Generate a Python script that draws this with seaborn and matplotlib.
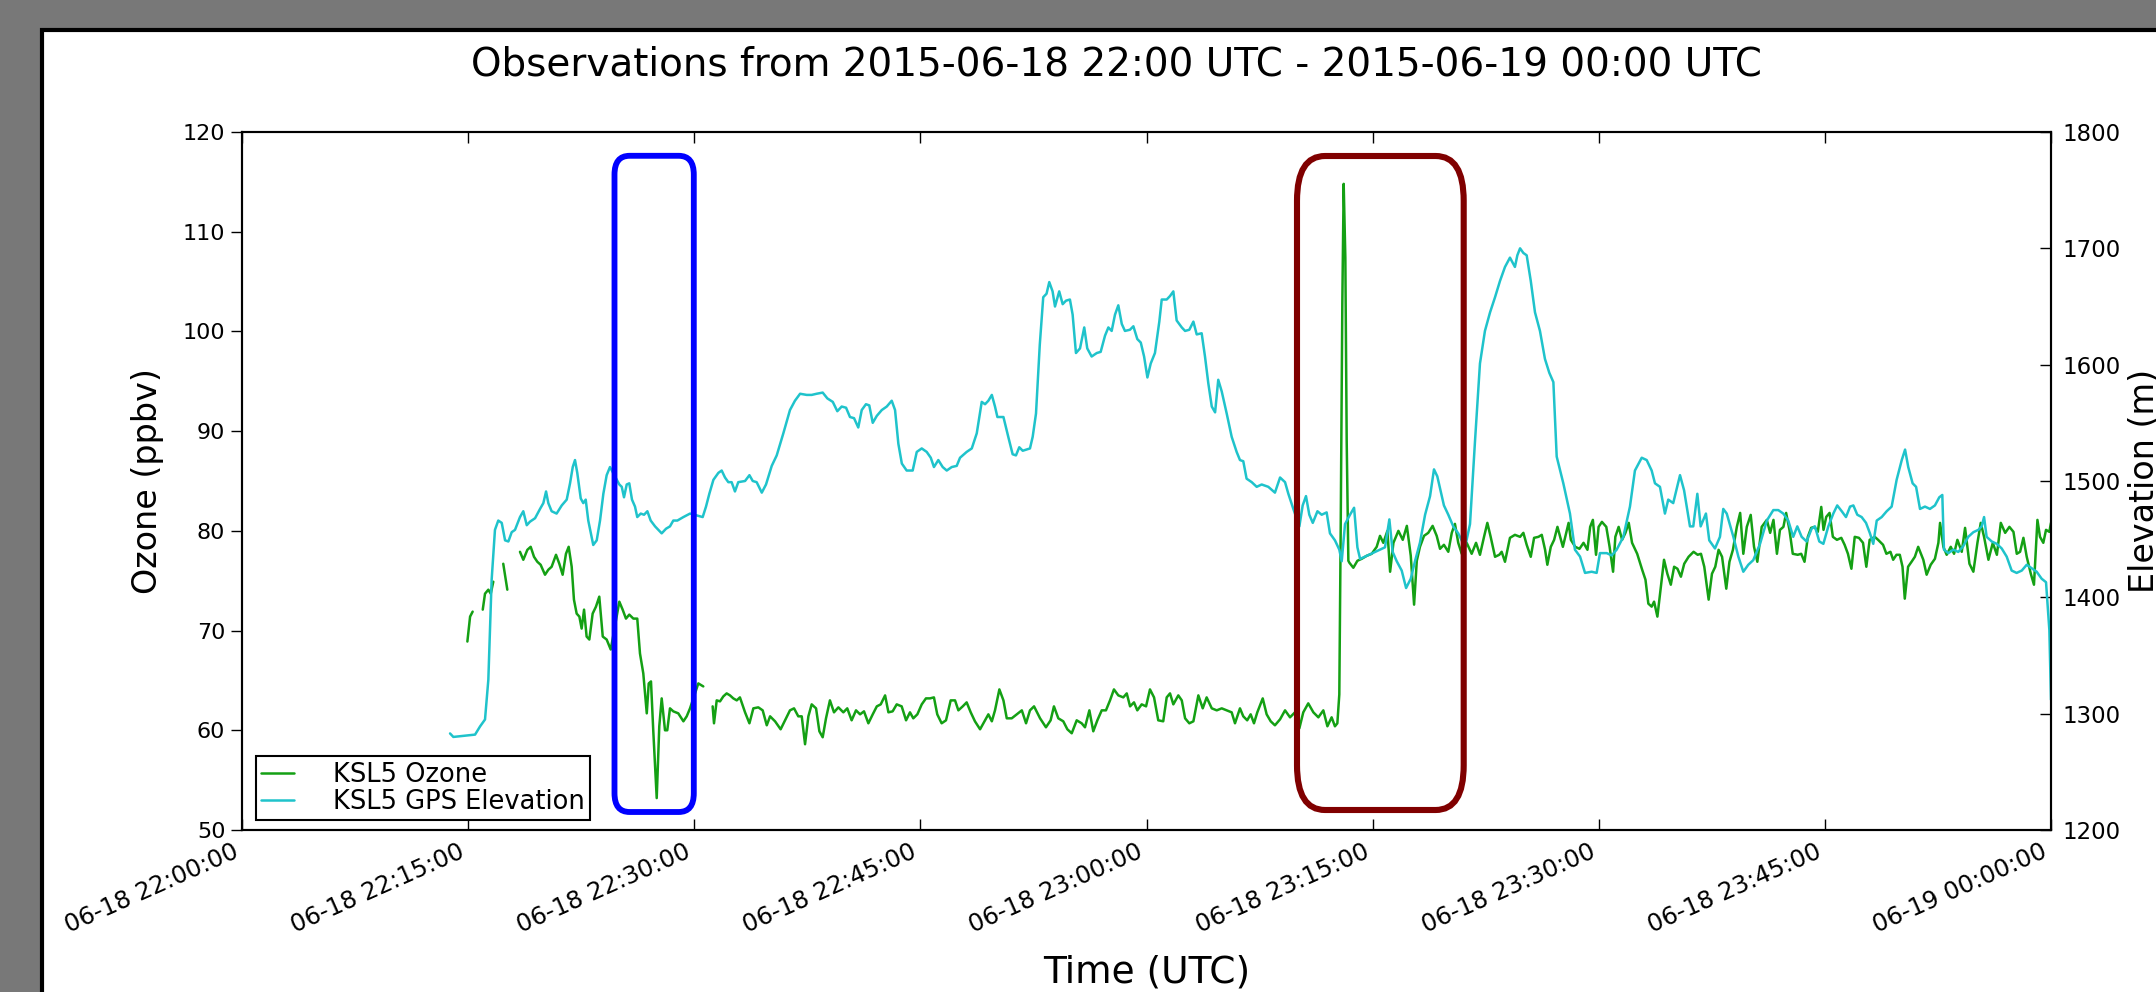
import numpy as np
import pandas as pd
import matplotlib
matplotlib.use("Agg")
import matplotlib.pyplot as plt
import matplotlib.dates as mdates
from matplotlib.lines import Line2D
from matplotlib.patches import FancyBboxPatch, Rectangle
from matplotlib.transforms import IdentityTransform
import seaborn as sns

# --- data (minutes after 2015-06-18 22:00 UTC) ---
START = pd.Timestamp("2015-06-18 22:00")
END = pd.Timestamp("2015-06-19 00:00")

# None marks a gap in the ozone record
ozone_minutes = [
    14.95, 15.13, 15.30, None,
    15.97, 16.12, 16.34, 16.50, 16.67, None,
    17.33, 17.60, None,
    18.44, 18.66, 18.93, 19.15, 19.37, 19.59, 19.81, 20.10, 20.32, 20.54, 20.83, 21.05,
    21.27, 21.49, 21.67, 21.87, 22.02, 22.20, 22.38, 22.53, 22.69, 22.86, 23.04, 23.26,
    23.48, 23.70, 23.93, 24.19, 24.46, 25.03, 25.25, 25.47, 25.69, 25.96, 26.22, 26.40,
    26.62, 26.85, 26.98, 27.13, 27.28, 27.51, 27.68, 27.84, 28.06, 28.21, 28.39, 28.61,
    28.94, 29.28, 29.50, 29.72, 30.27, 30.60, None,
    31.22, 31.31, 31.49, 31.71, 31.93, 32.15, 32.37, 32.59, 32.82, 33.03, 33.37, 33.66,
    33.92, 34.25, 34.54, 34.81, 35.03, 35.36, 35.73, 36.02, 36.35, 36.62, 36.90, 37.13,
    37.35, 37.57, 37.79, 38.08, 38.30, 38.52, 38.74, 39.00, 39.27, 39.56, 39.89, 40.15,
    40.44, 40.73, 41.00, 41.26, 41.55, 41.84, 42.11, 42.37, 42.66, 42.88, 43.16, 43.43,
    43.76, 44.05, 44.31, 44.53, 44.80, 45.09, 45.37, 45.64, 45.90, 46.12, 46.41, 46.70,
    47.01, 47.30, 47.52, 47.81, 48.07, 48.34, 48.62, 48.96, 49.29, 49.51, 49.74, 49.95,
    50.24, 50.51, 50.73, 51.06, 51.40, 51.73, 52.01, 52.27, 52.54, 52.94, 53.33, 53.64,
    53.86, 54.15, 54.48, 54.75, 55.04, 55.37, 55.70, 55.92, 56.21, 56.47, 56.74, 57.03,
    57.31, 57.58, 57.84, 58.13, 58.46, 58.69, 58.91, 59.17, 59.39, 59.68, 59.97, 60.23,
    60.50, 60.78, 61.11, 61.34, 61.56, 61.78, 62.11, 62.34, 62.56, 62.84, 63.11, 63.44,
    63.73, 63.99, 64.33, 64.66, 64.99, 65.32, 65.65, 65.87, 66.20, 66.42, 66.68, 66.91,
    67.13, 67.35, 67.71, 67.97, 68.24, 68.52, 68.86, 69.19, 69.52, 69.85, 70.14, 70.40,
    70.73, 71.07, 71.40, 71.73, 72.00, 72.28, 72.50, 72.66, 72.79, 72.88, 72.99, 73.08,
    73.19, 73.28, 73.39, 73.46, 73.72, 73.99, 74.28, 74.61, 74.94, 75.27, 75.49, 75.71,
    75.98, 76.16, 76.38, 76.71, 77.00, 77.27, 77.53, 77.75, 77.93, 78.14, 78.41, 78.69,
    78.98, 79.25, 79.47, 79.73, 80.02, 80.25, 80.46, 80.68, 80.91, 81.24, 81.57, 81.86,
    82.12, 82.39, 82.61, 82.83, 83.12, 83.40, 83.56, 83.78, 84.11, 84.44, 84.78, 85.00,
    85.22, 85.49, 85.71, 86.00, 86.22, 86.44, 86.59, 86.82, 87.04, 87.26, 87.44, 87.62,
    87.84, 88.00, 88.15, 88.44, 88.72, 88.99, 89.25, 89.43, 89.61, 89.82, 89.99, 90.21,
    90.50, 90.72, 90.95, 91.10, 91.32, 91.55, 91.77, 91.99, 92.21, 92.55, 92.88, 93.10,
    93.29, 93.51, 93.67, 93.89, 94.07, 94.33, 94.55, 94.78, 95.00, 95.22, 95.45, 95.67,
    95.96, 96.29, 96.56, 96.78, 97.00, 97.29, 97.51, 97.73, 97.95, 98.18, 98.46, 98.67,
    98.90, 99.16, 99.38, 99.59, 99.82, 100.08, 100.30, 100.52, 100.81, 101.15, 101.37, 101.59,
    101.82, 102.02, 102.25, 102.43, 102.65, 102.87, 103.20, 103.43, 103.65, 103.87, 104.09, 104.31,
    104.53, 104.76, 104.91, 105.09, 105.31, 105.53, 105.80, 106.09, 106.31, 106.53, 106.76, 106.98,
    107.26, 107.53, 107.75, 107.97, 108.31, 108.53, 108.86, 109.08, 109.35, 109.53, 109.75, 109.97,
    110.15, 110.30, 110.52, 110.75, 110.97, 111.19, 111.53, 111.75, 112.02, 112.30, 112.53, 112.64,
    112.86, 113.08, 113.35, 113.57, 113.79, 114.08, 114.30, 114.59, 114.85, 115.12, 115.34, 115.56,
    115.85, 116.14, 116.41, 116.67, 116.96, 117.24, 117.51, 117.73, 117.95, 118.17, 118.39, 118.66,
    118.87, 119.10, 119.27, 119.49, 119.67, 119.89, 120.00,
]
ozone_ppbv = [
    68.9, 71.4, 71.9, None,
    72.1, 73.7, 74.1, 73.7, 74.9, None,
    76.7, 74.1, None,
    77.9, 77.1, 78.1, 78.4, 77.4, 76.9, 76.6, 75.6, 76.1, 76.4, 77.6, 76.7,
    75.6, 77.7, 78.4, 76.4, 73.1, 71.7, 71.4, 70.2, 72.1, 69.4, 69.1, 71.7,
    72.4, 73.4, 69.4, 69.1, 68.1, 72.9, 72.1, 71.2, 71.6, 71.2, 71.2, 67.7,
    65.7, 61.7, 64.7, 64.9, 60.0, 53.2, 60.4, 63.2, 60.0, 60.0, 62.2, 61.9,
    61.7, 60.9, 61.4, 62.2, 64.7, 64.4, None,
    62.4, 60.7, 63.0, 62.9, 63.4, 63.7, 63.5, 63.2, 63.0, 63.3, 61.8, 60.7,
    62.2, 62.3, 62.0, 60.5, 61.4, 60.9, 60.1, 61.0, 62.0, 62.2, 61.4, 61.4,
    58.6, 61.4, 62.6, 62.2, 59.9, 59.3, 61.2, 63.0, 61.8, 62.3, 61.8, 62.2,
    61.0, 62.0, 61.6, 61.9, 60.7, 61.6, 62.4, 62.6, 63.5, 61.8, 61.9, 62.6,
    62.4, 61.0, 61.8, 61.2, 61.6, 62.6, 63.2, 63.2, 63.3, 61.6, 60.7, 61.0,
    63.0, 63.0, 62.0, 62.4, 62.8, 61.8, 60.9, 60.1, 61.0, 61.6, 60.9, 62.0,
    64.1, 63.0, 61.2, 61.2, 61.6, 62.0, 60.7, 62.0, 62.4, 61.2, 60.3, 61.0,
    62.4, 61.2, 60.9, 60.1, 59.7, 61.0, 60.7, 60.3, 62.0, 59.9, 61.0, 62.0,
    62.0, 63.0, 64.1, 63.5, 63.3, 63.7, 62.4, 62.8, 62.0, 62.6, 62.4, 64.1,
    63.3, 61.0, 60.9, 63.3, 63.7, 62.6, 63.5, 63.0, 61.2, 60.7, 60.9, 63.5,
    62.2, 63.3, 62.2, 62.0, 62.2, 62.0, 61.8, 60.7, 62.2, 61.4, 61.0, 61.6,
    60.7, 61.8, 63.2, 61.6, 60.9, 60.5, 61.1, 62.0, 61.3, 61.8, 60.2, 61.8,
    62.7, 61.8, 61.3, 62.0, 60.4, 61.3, 60.4, 60.7, 63.6, 79.8, 102.8, 114.8,
    107.4, 89.0, 77.0, 76.8, 76.3, 77.0, 77.2, 77.5, 77.7, 78.4, 79.5, 78.8,
    80.0, 75.9, 78.8, 80.0, 79.1, 80.5, 77.5, 72.6, 77.0, 78.4, 79.5, 79.8,
    80.5, 79.5, 78.2, 78.6, 77.9, 79.8, 80.7, 78.8, 77.7, 78.8, 77.7, 78.8,
    77.6, 79.4, 80.8, 79.4, 77.4, 77.6, 77.9, 76.9, 79.3, 79.6, 79.4, 79.8,
    78.6, 77.4, 79.3, 79.4, 79.6, 78.1, 76.6, 78.4, 79.1, 80.4, 79.4, 78.4,
    79.8, 80.8, 79.1, 78.4, 78.2, 78.8, 78.1, 80.4, 81.1, 77.6, 80.4, 80.9,
    80.4, 78.4, 75.9, 79.4, 80.4, 79.1, 79.8, 80.8, 78.8, 77.7, 76.1, 75.1,
    72.7, 72.4, 72.9, 71.4, 73.7, 77.1, 75.7, 74.6, 76.4, 76.2, 75.4, 76.7,
    77.4, 77.9, 77.6, 77.7, 76.4, 73.1, 75.7, 76.4, 78.1, 77.4, 74.2, 76.9,
    78.1, 80.4, 81.8, 77.7, 80.4, 81.6, 78.4, 76.9, 80.4, 81.1, 79.8, 81.1,
    77.7, 80.1, 80.4, 81.8, 80.1, 77.7, 77.6, 77.7, 76.9, 79.4, 80.3, 80.4,
    79.9, 82.4, 80.1, 81.4, 81.8, 79.4, 79.1, 79.3, 78.6, 77.7, 76.2, 79.4,
    79.3, 78.8, 76.4, 79.1, 79.4, 79.1, 78.6, 77.7, 77.9, 77.1, 77.6, 77.6,
    76.4, 73.2, 76.4, 76.9, 77.4, 78.4, 77.1, 75.6, 76.6, 77.2, 78.8, 80.8,
    78.4, 77.6, 78.4, 77.7, 79.1, 77.9, 80.3, 76.7, 75.9, 78.8, 80.8, 79.4,
    77.1, 78.8, 77.6, 80.8, 79.8, 80.4, 79.9, 77.7, 77.9, 79.3, 77.4, 75.7,
    74.6, 81.1, 79.4, 78.8, 80.1, 79.9, 80.8,
]

elev_minutes = [
    13.80, 14.02, 15.46, 15.79, 16.12, 16.34, 16.56, 16.78, 17.00, 17.23, 17.45, 17.67,
    17.89, 18.11, 18.44, 18.66, 18.89, 19.10, 19.44, 19.77, 19.99, 20.17, 20.32, 20.54,
    20.87, 21.21, 21.54, 21.76, 21.94, 22.09, 22.24, 22.47, 22.64, 22.80, 22.97, 23.30,
    23.53, 23.75, 23.97, 24.19, 24.41, 25.03, 25.19, 25.34, 25.52, 25.69, 25.87, 26.07,
    26.22, 26.45, 26.67, 26.89, 27.11, 27.40, 27.84, 28.13, 28.39, 28.61, 28.88, 29.28,
    29.72, 30.27, 30.56, 30.78, 31.00, 31.27, 31.60, 31.82, 32.04, 32.26, 32.48, 32.70,
    32.92, 33.37, 33.66, 33.88, 34.14, 34.48, 34.76, 35.14, 35.47, 35.91, 36.35, 36.68,
    37.02, 37.46, 37.79, 38.12, 38.52, 38.83, 39.19, 39.49, 39.78, 40.07, 40.33, 40.60,
    40.88, 41.11, 41.39, 41.61, 41.84, 42.11, 42.44, 42.77, 43.10, 43.32, 43.54, 43.77,
    44.09, 44.49, 44.76, 45.09, 45.42, 45.69, 45.90, 46.19, 46.48, 46.75, 47.08, 47.41,
    47.63, 48.07, 48.41, 48.74, 49.07, 49.29, 49.51, 49.74, 49.95, 50.11, 50.51, 50.83,
    51.12, 51.34, 51.56, 51.79, 52.27, 52.45, 52.67, 52.92, 53.15, 53.37, 53.55, 53.77,
    53.93, 54.21, 54.44, 54.66, 54.92, 55.10, 55.32, 55.59, 55.87, 56.07, 56.36, 56.70,
    56.96, 57.25, 57.47, 57.69, 57.91, 58.13, 58.36, 58.57, 58.90, 59.13, 59.39, 59.62,
    59.84, 60.06, 60.28, 60.56, 60.85, 61.01, 61.34, 61.56, 61.78, 62.00, 62.34, 62.56,
    62.84, 63.11, 63.33, 63.66, 63.88, 64.10, 64.33, 64.55, 64.76, 64.99, 65.32, 65.65,
    65.98, 66.20, 66.42, 66.64, 66.98, 67.31, 67.64, 68.08, 68.52, 68.86, 69.19, 69.41,
    69.74, 70.14, 70.36, 70.58, 70.80, 71.03, 71.34, 71.62, 71.95, 72.17, 72.50, 72.79,
    72.95, 73.17, 73.50, 73.77, 73.99, 74.17, 74.50, 74.83, 75.16, 75.49, 75.82, 76.11,
    76.33, 76.60, 76.93, 77.22, 77.53, 77.81, 78.14, 78.48, 78.81, 79.07, 79.29, 79.52,
    79.73, 80.02, 80.35, 80.68, 81.13, 81.46, 81.79, 82.12, 82.45, 82.79, 83.12, 83.45,
    83.78, 84.11, 84.44, 84.60, 84.78, 85.00, 85.22, 85.49, 85.77, 86.10, 86.43, 86.72,
    86.99, 87.21, 87.65, 88.09, 88.42, 88.76, 89.09, 89.53, 89.86, 90.08, 90.53, 90.86,
    91.19, 91.63, 92.07, 92.40, 92.85, 93.18, 93.51, 93.73, 94.06, 94.39, 94.61, 94.94,
    95.39, 95.66, 96.05, 96.27, 96.54, 96.76, 97.11, 97.33, 97.71, 98.04, 98.26, 98.49,
    98.93, 99.26, 99.59, 99.92, 100.25, 100.70, 101.15, 101.58, 101.91, 102.24, 102.57, 102.90,
    103.17, 103.46, 103.79, 104.12, 104.34, 104.63, 104.90, 105.23, 105.56, 105.82, 106.12, 106.40,
    106.67, 106.89, 107.15, 107.44, 107.73, 107.99, 108.21, 108.44, 108.77, 109.10, 109.43, 109.76,
    110.10, 110.32, 110.53, 110.82, 111.05, 111.31, 111.64, 111.97, 112.30, 112.59, 112.79, 112.90,
    113.19, 113.52, 113.85, 114.18, 114.51, 114.85, 115.18, 115.40, 115.56, 115.73, 116.07, 116.40,
    116.73, 117.06, 117.39, 117.72, 118.06, 118.39, 118.72, 119.05, 119.38, 119.67, 119.89, 120.00,
]
elev_m = [
    1283, 1280, 1282, 1289, 1295, 1329, 1415, 1458, 1466, 1464, 1449, 1448,
    1456, 1458, 1469, 1474, 1462, 1465, 1468, 1476, 1481, 1491, 1481, 1474,
    1472, 1479, 1484, 1498, 1512, 1518, 1507, 1485, 1481, 1484, 1466, 1445,
    1449, 1466, 1489, 1505, 1512, 1497, 1495, 1486, 1497, 1498, 1484, 1478,
    1469, 1472, 1471, 1474, 1466, 1461, 1455, 1459, 1461, 1466, 1466, 1469,
    1472, 1470, 1469, 1478, 1489, 1501, 1507, 1509, 1503, 1499, 1499, 1491,
    1499, 1500, 1505, 1500, 1499, 1490, 1497, 1513, 1522, 1541, 1561, 1569,
    1575, 1574, 1574, 1575, 1576, 1571, 1568, 1560, 1564, 1563, 1555, 1554,
    1546, 1561, 1566, 1565, 1550, 1556, 1561, 1564, 1569, 1561, 1532, 1515,
    1509, 1509, 1525, 1528, 1525, 1520, 1512, 1518, 1512, 1509, 1512, 1513,
    1520, 1525, 1528, 1541, 1568, 1566, 1569, 1574, 1564, 1555, 1555, 1538,
    1523, 1522, 1529, 1526, 1528, 1538, 1558, 1617, 1658, 1661, 1671, 1663,
    1650, 1663, 1652, 1655, 1656, 1643, 1610, 1614, 1632, 1614, 1607, 1610,
    1611, 1625, 1632, 1629, 1643, 1651, 1635, 1629, 1630, 1633, 1622, 1619,
    1607, 1589, 1601, 1610, 1637, 1656, 1656, 1659, 1663, 1638, 1632, 1629,
    1630, 1637, 1626, 1627, 1607, 1584, 1564, 1559, 1587, 1577, 1558, 1538,
    1525, 1518, 1517, 1502, 1499, 1495, 1497, 1495, 1490, 1503, 1499, 1489,
    1476, 1461, 1479, 1487, 1471, 1464, 1474, 1471, 1473, 1455, 1449, 1441,
    1431, 1463, 1471, 1477, 1443, 1433, 1435, 1437, 1439, 1441, 1443, 1467,
    1439, 1431, 1423, 1408, 1416, 1431, 1447, 1471, 1487, 1510, 1504, 1491,
    1479, 1471, 1461, 1455, 1443, 1463, 1534, 1601, 1629, 1645, 1658, 1672,
    1684, 1692, 1684, 1694, 1700, 1696, 1694, 1672, 1645, 1629, 1605, 1593,
    1585, 1521, 1498, 1472, 1441, 1435, 1421, 1422, 1421, 1438, 1438, 1436,
    1441, 1452, 1478, 1509, 1520, 1518, 1509, 1498, 1495, 1472, 1484, 1481,
    1505, 1492, 1461, 1461, 1489, 1461, 1472, 1449, 1442, 1452, 1476, 1472,
    1452, 1435, 1422, 1428, 1432, 1446, 1466, 1475, 1475, 1472, 1466, 1452,
    1461, 1452, 1448, 1459, 1461, 1448, 1446, 1461, 1472, 1479, 1474, 1469,
    1478, 1479, 1471, 1469, 1464, 1455, 1446, 1466, 1469, 1474, 1478, 1501,
    1518, 1527, 1512, 1498, 1495, 1476, 1478, 1476, 1479, 1486, 1488, 1441,
    1438, 1441, 1439, 1444, 1452, 1456, 1458, 1461, 1469, 1452, 1448, 1446,
    1442, 1435, 1423, 1421, 1423, 1428, 1425, 1422, 1416, 1413, 1372, 1312,
]

ozone_label = "KSL5 Ozone"
elev_label = "KSL5 GPS Elevation"
title = "Observations from 2015-06-18 22:00 UTC - 2015-06-19 00:00 UTC"

GREEN = "#14a014"
CYAN = "#1fc3cb"

# --- frames ---
oz = pd.DataFrame({"minutes": ozone_minutes, "ozone": ozone_ppbv}, dtype=float)
oz["seg"] = oz["ozone"].isna().cumsum()
oz = oz.dropna()
oz["time"] = START + pd.to_timedelta(oz["minutes"], unit="m")

el = pd.DataFrame({"minutes": elev_minutes, "elev": elev_m}, dtype=float)
el["time"] = START + pd.to_timedelta(el["minutes"], unit="m")

sns.set_style("ticks")
plt.rcParams.update({
    "font.family": ["DejaVu Sans"],
    "text.color": "black",
    "axes.labelcolor": "black",
    "axes.edgecolor": "black",
    "xtick.color": "black",
    "ytick.color": "black",
    "axes.linewidth": 1.5,
})

W, H, DPI = 2156, 992, 100
fig = plt.figure(figsize=(W / DPI, H / DPI), dpi=DPI, facecolor="#787878")

# white panel of the screenshot
panel = Rectangle((42, -20), 2300, H - 30 + 20, transform=IdentityTransform(),
                  facecolor="white", edgecolor="black", lw=3, zorder=-5)
fig.add_artist(panel)

ax1 = fig.add_axes([242 / W, 1 - 830 / H, (2051 - 242) / W, (830 - 132) / H])
ax1.set_facecolor("white")
ax2 = ax1.twinx()

sns.lineplot(data=oz, x="time", y="ozone", units="seg", estimator=None,
             color=GREEN, lw=1.8, ax=ax1, legend=False)
sns.lineplot(data=el, x="time", y="elev", estimator=None,
             color=CYAN, lw=1.8, ax=ax2, legend=False)

ax1.set_xlim(START, END)
ax1.set_ylim(50, 120)
ax1.set_yticks(np.arange(50, 121, 10))
ax2.set_ylim(1200, 1800)
ax2.set_yticks(np.arange(1200, 1801, 100))

ax1.xaxis.set_major_locator(mdates.MinuteLocator(byminute=[0, 15, 30, 45]))
ax1.xaxis.set_major_formatter(mdates.DateFormatter("%m-%d %H:%M:%S"))

ax1.tick_params(axis="x", direction="in", top=True, bottom=True, length=8,
                width=1, labelsize=17.5, pad=7)
ax1.tick_params(axis="y", direction="out", left=True, right=False, length=8,
                width=1, labelsize=16, pad=4)
ax2.tick_params(axis="y", direction="in", right=True, left=False, length=8,
                width=1, labelsize=16.5, pad=8)
plt.setp(ax1.get_xticklabels(), rotation=24, ha="right")

for sp in ax2.spines.values():
    sp.set_linewidth(1.5)

ax1.set_xlabel("Time (UTC)", fontsize=27)
ax1.xaxis.set_label_coords(0.5, -0.178)
ax1.set_ylabel("Ozone (ppbv)", fontsize=24)
ax1.yaxis.set_label_coords(-0.043, 0.5)
ax2.set_ylabel("Elevation (m)", fontsize=24)
ax2.yaxis.set_label_coords(1.0425, 0.5)

fig.text(1116 / W, 1 - 65 / H, title, ha="center", va="center", fontsize=28)

handles = [Line2D([], [], color=GREEN, lw=1.8), Line2D([], [], color=CYAN, lw=1.8)]
leg = ax2.legend(handles, [ozone_label, elev_label], loc="lower left",
                 bbox_to_anchor=(0.0077, 0.0143), borderaxespad=0, fontsize=18.5,
                 fancybox=False, framealpha=1, edgecolor="black",
                 handlelength=1.3, handletextpad=1.5, labelspacing=0.05, borderpad=0.2)
leg.get_frame().set_linewidth(1.5)

# highlight boxes drawn over the chart
blue_box = FancyBboxPatch((614.5, 180), 79.3, 656.2,
                          boxstyle="round,pad=0,rounding_size=15", mutation_aspect=1.25,
                          transform=IdentityTransform(), fill=False,
                          edgecolor="#0000ff", lw=4.2, zorder=10)
red_box = FancyBboxPatch((1297, 182), 166.7, 654,
                         boxstyle="round,pad=0,rounding_size=28", mutation_aspect=1.6,
                         transform=IdentityTransform(), fill=False,
                         edgecolor="#800000", lw=4.4, zorder=10)
fig.add_artist(blue_box)
fig.add_artist(red_box)

fig.savefig("out.png", dpi=DPI, facecolor=fig.get_facecolor())
